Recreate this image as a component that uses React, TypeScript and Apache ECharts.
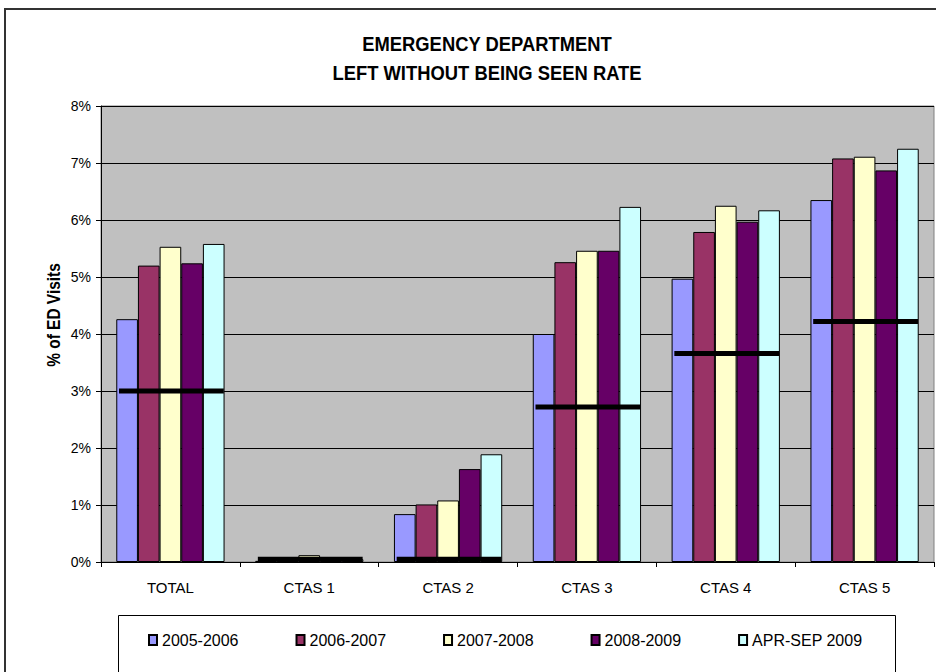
import React, { useEffect, useRef } from "react";
import * as echarts from "echarts";

// Emergency department "left without being seen" rates by triage level
const categories = ["TOTAL", "CTAS 1", "CTAS 2", "CTAS 3", "CTAS 4", "CTAS 5"];
const seriesNames = ["2005-2006", "2006-2007", "2007-2008", "2008-2009", "APR-SEP 2009"];
const fy0506 = [4.26, 0.02, 0.84, 4.0, 4.97, 6.35];
const fy0607 = [5.2, 0.03, 1.01, 5.26, 5.79, 7.08];
const fy0708 = [5.53, 0.12, 1.08, 5.46, 6.25, 7.11];
const fy0809 = [5.24, 0.04, 1.63, 5.46, 5.97, 6.87];
const aprSep09 = [5.58, 0.05, 1.89, 6.23, 6.17, 7.25];
// Target rate for each group, drawn as a thick black bar across the group
const targets = [3.0, 0.05, 0.05, 2.72, 3.66, 4.22];
const yTicks = [0, 1, 2, 3, 4, 5, 6, 7, 8];

const colors = ["#9999FF", "#993366", "#FFFFCC", "#660066", "#CCFFFF"];
const FONT = "'Liberation Sans', Arial, sans-serif";

export default function App() {
  const ref = useRef<HTMLDivElement>(null);

  useEffect(() => {
    if (!ref.current) return;
    const chart = echarts.init(ref.current, undefined, { renderer: "svg" });
    const values = [fy0506, fy0607, fy0708, fy0809, aprSep09];

    const barSeries = seriesNames.map((name, i) => ({
      name,
      type: "bar",
      data: values[i],
      barGap: "0%",
      barCategoryGap: "22%",
      itemStyle: { color: colors[i], borderColor: "#000", borderWidth: 1 },
      z: 2,
    }));

    const targetSeries = {
      name: "Target",
      type: "custom",
      z: 5,
      data: targets.map((v, i) => [i, v]),
      renderItem: (params: any, api: any) => {
        const c = api.coord([api.value(0), api.value(1)]);
        const w = api.size([1, 0])[0] * 0.755;
        return {
          type: "rect",
          shape: { x: c[0] - w / 2 + 1, y: c[1] - 2.5, width: w, height: 5 },
          style: { fill: "#000" },
        };
      },
    };

    const condensedText = (text: string, x: number, y: number, size: number, sx: number, rotation = 0) => ({
      type: "text",
      x,
      y,
      rotation,
      scaleX: sx,
      style: {
        text,
        fontSize: size,
        fontWeight: "bold",
        fontFamily: FONT,
        fill: "#000",
        align: "center",
        verticalAlign: "middle",
      },
    });

    chart.setOption({
      animation: false,
      backgroundColor: "#ffffff",
      textStyle: { fontFamily: FONT },
      grid: {
        left: 101,
        top: 106,
        right: 2,
        bottom: 110,
        show: true,
        backgroundColor: "#C0C0C0",
        borderColor: "#808080",
        borderWidth: 1,
      },
      xAxis: {
        type: "category",
        data: categories,
        boundaryGap: true,
        axisLine: { lineStyle: { color: "#000", width: 1 } },
        axisTick: { show: true, length: 5, lineStyle: { color: "#000" } },
        axisLabel: { color: "#000", fontSize: 15, margin: 18, fontFamily: FONT },
      },
      yAxis: {
        type: "value",
        min: yTicks[0],
        max: yTicks[yTicks.length - 1],
        interval: 1,
        axisLine: { show: true, lineStyle: { color: "#000", width: 1 } },
        axisTick: { show: true, length: 5, lineStyle: { color: "#000" } },
        axisLabel: { color: "#000", fontSize: 14, margin: 10, formatter: "{value}%", fontFamily: FONT },
        splitLine: { show: true, lineStyle: { color: "#000", width: 1 } },
      },
      legend: {
        data: seriesNames,
        left: 148,
        top: 632,
        padding: 0,
        itemGap: 57,
        itemWidth: 8,
        itemHeight: 10,
        icon: "rect",
        textStyle: { color: "#000", fontSize: 16, fontFamily: FONT },
      },
      graphic: [
        {
          type: "rect",
          z: -10,
          shape: { x: 5, y: 9, width: 1000, height: 1000 },
          style: { fill: "none", stroke: "#333", lineWidth: 2 },
        },
        {
          type: "rect",
          z: 0,
          shape: { x: 118.5, y: 615.5, width: 777, height: 100 },
          style: { fill: "#fff", stroke: "#000", lineWidth: 1 },
        },
        condensedText("EMERGENCY DEPARTMENT", 487, 44, 20, 0.92),
        condensedText("LEFT WITHOUT BEING SEEN RATE", 487, 73, 20, 0.92),
        condensedText("% of ED Visits", 54, 315, 18, 0.86, Math.PI / 2),
      ],
      series: [...barSeries, targetSeries],
    });

    return () => chart.dispose();
  }, []);

  return (
    <div
      ref={ref}
      style={{ position: "fixed", left: 0, top: 0, width: 936, height: 672, background: "#fff" }}
    />
  );
}
